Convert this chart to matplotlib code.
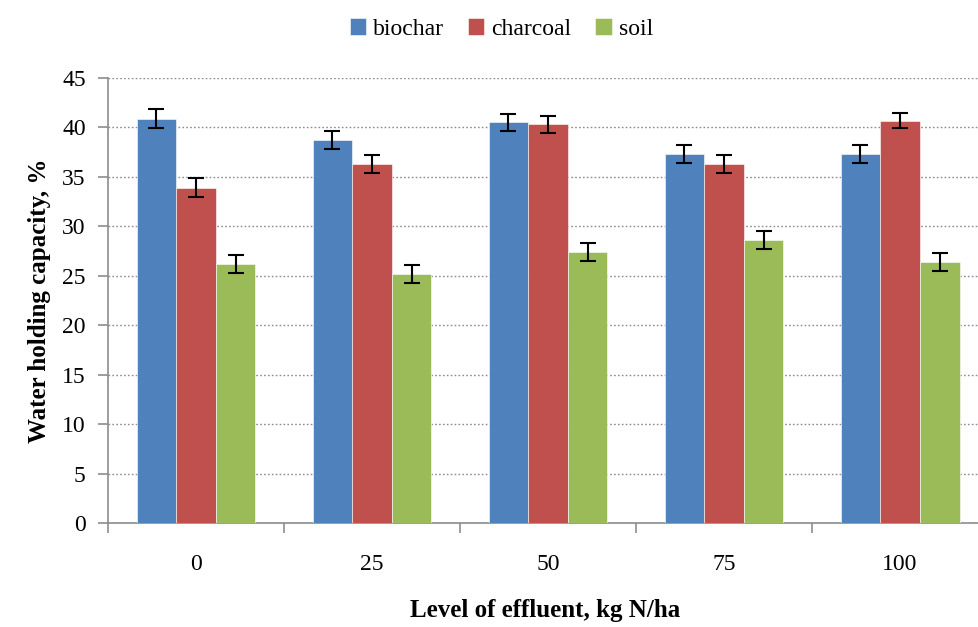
import numpy as np
import matplotlib
matplotlib.use("Agg")
import matplotlib.pyplot as plt

levels = ["0", "25", "50", "75", "100"]
biochar = [40.9, 38.7, 40.5, 37.3, 37.3]
charcoal = [33.9, 36.3, 40.3, 36.3, 40.7]
soil = [26.2, 25.2, 27.4, 28.6, 26.4]
biochar_err = [1.0, 0.9, 0.9, 0.9, 0.9]
charcoal_err = [0.95, 0.9, 0.9, 0.9, 0.8]
soil_err = [0.9, 0.9, 0.9, 0.9, 0.9]

plt.rcParams["font.family"] = ["Liberation Serif", "DejaVu Serif"]

fig = plt.figure(figsize=(9.79, 6.27), dpi=100)
ax = fig.add_axes([0.1103, 0.1659, 0.899, 0.7097])

x = np.arange(len(levels))
w = 0.225
series = [
    (biochar, biochar_err, "#4F81BD", "biochar"),
    (charcoal, charcoal_err, "#C0504D", "charcoal"),
    (soil, soil_err, "#9BBB59", "soil"),
]
for i, (vals, errs, col, lab) in enumerate(series):
    ax.bar(x + (i - 1) * w, vals, w, color=col, label=lab, zorder=3,
           edgecolor="white", linewidth=0.4)
    ax.errorbar(x + (i - 1) * w, vals, yerr=errs, fmt="none", ecolor="black",
                elinewidth=1.5, capsize=6, capthick=1.5, zorder=4)

ax.set_xlim(-0.5, 4.5)
ax.set_ylim(0, 45)
ax.set_yticks(np.arange(0, 46, 5))
ax.yaxis.grid(True, linestyle=(0, (1.2, 1.6)), color="#8c8c8c", linewidth=1.0, zorder=0)

# category labels at centres, ticks at boundaries
ax.set_xticks(np.arange(-0.5, 4.6, 1.0))
ax.set_xticklabels([])
ax.set_xticks(x, minor=True)
ax.set_xticklabels(levels, minor=True)
ax.tick_params(axis="x", which="minor", length=0, pad=22, labelsize=17)
ax.tick_params(axis="x", which="major", length=7, width=1.2, color="#8c8c8c", direction="out")
ax.tick_params(axis="y", length=7, width=1.2, color="#8c8c8c", labelsize=17, pad=9)

for s in ["top", "right"]:
    ax.spines[s].set_visible(False)
for s in ["left", "bottom"]:
    ax.spines[s].set_color("#8c8c8c")
    ax.spines[s].set_linewidth(1.2)

ax.set_ylabel("Water holding capacity, %", fontsize=18, fontweight="bold", labelpad=8)
fig.text(0.557, 0.008, "Level of effluent, kg N/ha", fontsize=18, fontweight="bold",
         ha="center", va="bottom")

fig.legend(loc="upper center", bbox_to_anchor=(0.512, 1.005), ncol=3, frameon=False,
           fontsize=17, handlelength=0.7, handleheight=0.7, handletextpad=0.3,
           columnspacing=1.0)

fig.savefig("out.png", dpi=100)
